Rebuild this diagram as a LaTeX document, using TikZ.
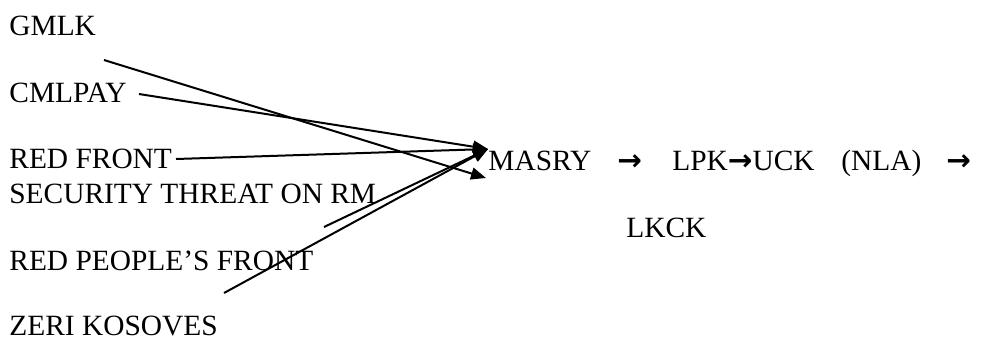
\documentclass[tikz,border=0pt]{standalone}
\usepackage{fontspec}
\setmainfont{Liberation Serif}
\newfontfamily\flechas{DejaVu Sans}
\usetikzlibrary{arrows.meta}

\newcommand{\fl}{{\flechas\bfseries →}}

\tikzset{
  etiqueta/.style={anchor=base west, inner sep=0pt, font=\rmfamily\fontsize{14.7}{17}\selectfont},
  flecha/.style={line width=1pt, -{Triangle[length=7.5pt,width=6pt]}}
}

\begin{document}
\begin{tikzpicture}[x=0.5pt,y=0.5pt]
        \useasboundingbox (0,0) rectangle (1000,339);

        % Grupos
        \node[etiqueta] (gmlk)   at (9,304) {GMLK};
        \node[etiqueta] (cmlpay) at (9,237) {CMLPAY};
        \node[etiqueta] (redfront) at (9,171) {RED FRONT};
        \node[etiqueta] (threat) at (9,136) {SECURITY THREAT ON RM};
        \node[etiqueta] (redpeople) at (9,69) {RED PEOPLE'S FRONT};
        \node[etiqueta] (zeri)   at (9,4) {ZERI KOSOVES};

        % Cadena
        \node[etiqueta] (masry)  at (488,169) {MASRY};
        \node[etiqueta] (flA)    at (617,169) {\fl};
        \node[etiqueta] (lpkuck) at (672,169) {LPK\fl UCK};
        \node[etiqueta] (nla)    at (841,169) {(NLA)};
        \node[etiqueta] (flB)    at (946,169) {\fl};
        \node[etiqueta] (lkck)   at (626,102) {LKCK};

        % Puntas y origenes de las flechas
        \coordinate (puntaA) at ([shift={(0,21)}]masry.base west);
        \coordinate (puntaB) at ([shift={(-2,-8)}]masry.base west);
        \coordinate (deGmlk)   at (104,279);
        \coordinate (deCmlpay) at (139,245);
        \coordinate (deRed)    at (176,180);
        \coordinate (deThreat) at (324,112);
        \coordinate (dePeople) at (224,46);

        % Flechas
        \draw[flecha] (deGmlk) -- (puntaB);
        \draw[flecha] (deCmlpay) -- (puntaA);
        \draw[flecha] (deRed) -- (puntaA);
        \draw[flecha] (deThreat) -- (puntaA);
        \draw[flecha] (dePeople) -- (puntaA);
    \end{tikzpicture}
\end{document}
